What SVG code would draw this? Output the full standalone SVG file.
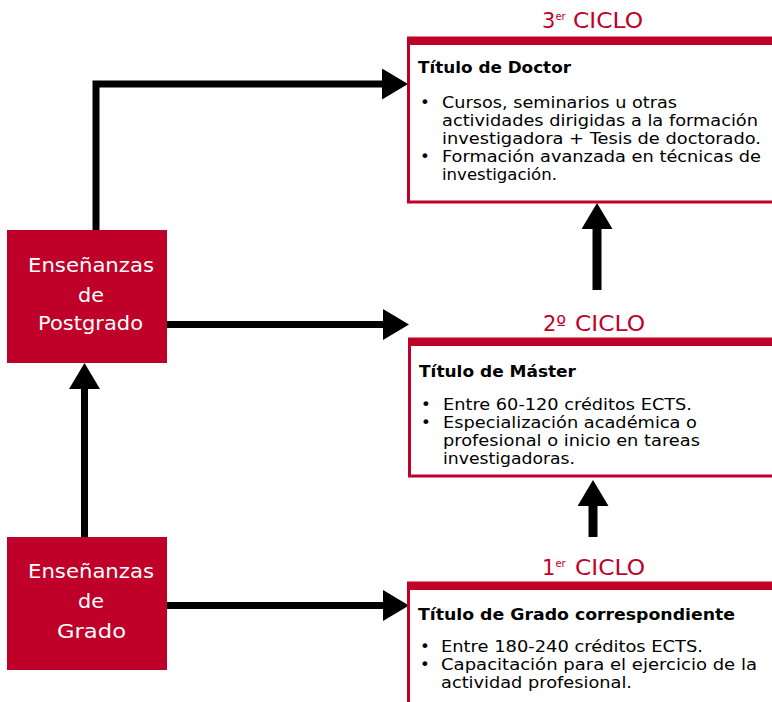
<svg xmlns="http://www.w3.org/2000/svg" width="772" height="702" viewBox="0 0 772 702">
<style>
.lbox{fill:#bf0029;}
.ltxt{font-family:"DejaVu Sans","Liberation Sans",sans-serif;font-size:20px;fill:#ffffff;text-anchor:middle;}
.cyc{font-family:"DejaVu Sans","Liberation Sans",sans-serif;font-size:21px;fill:#bf0029;}
.sup{font-size:10px;}
.frame{fill:#ffffff;stroke:#bf0029;stroke-width:3;}
.band{fill:#bf0029;}
.ttl{font-family:"DejaVu Sans","Liberation Sans",sans-serif;font-size:16px;font-weight:bold;fill:#000000;}
.bt{font-family:"DejaVu Sans","Liberation Sans",sans-serif;font-size:16.5px;fill:#000000;}
.conn{fill:none;stroke:#000000;stroke-width:7;stroke-linejoin:miter;marker-end:url(#ah);}
</style>
<defs>
<marker id="ah" viewBox="0 0 26 31" refX="0" refY="15.5" markerWidth="26" markerHeight="31" markerUnits="userSpaceOnUse" orient="auto">
<path d="M0,0 L26,15.5 L0,31 Z" fill="#000000"/>
</marker>
</defs>

<g id="connectors">
<path class="conn" d="M96,230 V84 H382"/>
<path class="conn" d="M167,324.5 H383"/>
<path class="conn" d="M167,605.5 H383"/>
<path class="conn" d="M84.5,537 V389"/>
<path class="conn" style="stroke-width:9" d="M597,290 V229"/>
<path class="conn" style="stroke-width:9" d="M593,537 V506"/>
</g>

<g id="postgrado">
<rect class="lbox" x="7" y="230" width="160" height="133"/>
<text class="ltxt" x="91" y="272" textLength="126" lengthAdjust="spacingAndGlyphs">Enseñanzas</text>
<text class="ltxt" x="91" y="302" textLength="26" lengthAdjust="spacingAndGlyphs">de</text>
<text class="ltxt" x="90.5" y="330" textLength="105" lengthAdjust="spacingAndGlyphs">Postgrado</text>
</g>

<g id="grado">
<rect class="lbox" x="7" y="537" width="160" height="133"/>
<text class="ltxt" x="91" y="578" textLength="126" lengthAdjust="spacingAndGlyphs">Enseñanzas</text>
<text class="ltxt" x="91" y="608" textLength="26" lengthAdjust="spacingAndGlyphs">de</text>
<text class="ltxt" x="91.5" y="638" textLength="69" lengthAdjust="spacingAndGlyphs">Grado</text>
</g>

<g id="ciclo3">
<text class="cyc" x="542" y="28">3<tspan class="sup" dy="-8">er</tspan></text>
<text class="cyc" x="573" y="28" textLength="70" lengthAdjust="spacingAndGlyphs">CICLO</text>
<rect class="frame" x="408.5" y="38" width="370" height="164"/>
<rect class="band" x="407" y="37" width="366" height="8"/>
<text class="ttl" x="418" y="73" textLength="153" lengthAdjust="spacingAndGlyphs">Título de Doctor</text>
<text class="bt" x="420" y="108">•</text>
<text class="bt" x="442" y="108" textLength="235" lengthAdjust="spacingAndGlyphs">Cursos, seminarios u otras</text>
<text class="bt" x="442" y="126" textLength="316" lengthAdjust="spacingAndGlyphs">actividades dirigidas a la formación</text>
<text class="bt" x="442" y="144" textLength="319" lengthAdjust="spacingAndGlyphs">investigadora + Tesis de doctorado.</text>
<text class="bt" x="420" y="162">•</text>
<text class="bt" x="442" y="162" textLength="319" lengthAdjust="spacingAndGlyphs">Formación avanzada en técnicas de</text>
<text class="bt" x="442" y="180" textLength="115" lengthAdjust="spacingAndGlyphs">investigación.</text>
</g>

<g id="ciclo2">
<text class="cyc" x="543" y="331">2º</text>
<text class="cyc" x="575" y="331" textLength="70" lengthAdjust="spacingAndGlyphs">CICLO</text>
<rect class="frame" x="409.5" y="339" width="370" height="137"/>
<rect class="band" x="408" y="338" width="366" height="8"/>
<text class="ttl" x="419" y="377" textLength="157" lengthAdjust="spacingAndGlyphs">Título de Máster</text>
<text class="bt" x="421" y="410">•</text>
<text class="bt" x="443" y="410" textLength="249" lengthAdjust="spacingAndGlyphs">Entre 60-120 créditos ECTS.</text>
<text class="bt" x="421" y="428">•</text>
<text class="bt" x="443" y="428" textLength="254" lengthAdjust="spacingAndGlyphs">Especialización académica o</text>
<text class="bt" x="443" y="446" textLength="257" lengthAdjust="spacingAndGlyphs">profesional o inicio en tareas</text>
<text class="bt" x="443" y="464" textLength="132" lengthAdjust="spacingAndGlyphs">investigadoras.</text>
</g>

<g id="ciclo1">
<text class="cyc" x="542" y="575">1<tspan class="sup" dy="-8">er</tspan></text>
<text class="cyc" x="575" y="575" textLength="70" lengthAdjust="spacingAndGlyphs">CICLO</text>
<rect class="frame" x="408.5" y="583" width="370" height="140"/>
<rect class="band" x="407" y="582" width="366" height="8"/>
<text class="ttl" x="418" y="620" textLength="317" lengthAdjust="spacingAndGlyphs">Título de Grado correspondiente</text>
<text class="bt" x="420" y="652">•</text>
<text class="bt" x="441" y="652" textLength="262" lengthAdjust="spacingAndGlyphs">Entre 180-240 créditos ECTS.</text>
<text class="bt" x="420" y="670">•</text>
<text class="bt" x="441" y="670" textLength="316" lengthAdjust="spacingAndGlyphs">Capacitación para el ejercicio de la</text>
<text class="bt" x="441" y="688" textLength="191" lengthAdjust="spacingAndGlyphs">actividad profesional.</text>
</g>
</svg>
